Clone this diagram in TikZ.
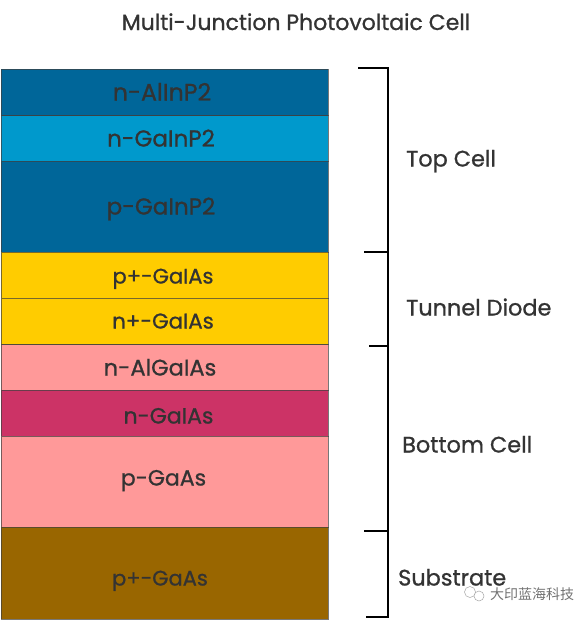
\documentclass[tikz,border=0pt]{standalone}
\usepackage{fontspec}
\setmainfont[FakeBold=0.9]{Poppins}
\newfontfamily\cjkwm{Noto Sans CJK SC}
\definecolor{deepblue}{HTML}{006699}
\definecolor{lightblue}{HTML}{0099CC}
\definecolor{amber}{HTML}{FFCC00}
\definecolor{salmon}{HTML}{FF9999}
\definecolor{berry}{HTML}{CC3366}
\definecolor{umber}{HTML}{996600}
\definecolor{ink}{HTML}{333333}
\newcommand{\layersize}[1]{\fontsize{#1}{26}\selectfont}
\tikzset{
  layerbox/.style={draw=black!75,draw opacity=.7,line width=.6pt,minimum width=327pt,inner sep=0pt,outer sep=0pt,anchor=north west},
  layertext/.style={text=ink,font=\layersize{#1},inner sep=0pt,anchor=base},
  sidetext/.style={text=ink,font=\layersize{22.4},inner sep=0pt,anchor=base west},
  brace/.style={draw=black,line width=2pt},
}
\begin{document}
\begin{tikzpicture}[x=1pt,y=-1pt]
\useasboundingbox (0,0) rectangle (575,622);
\fill[white] (0,0) rectangle (575,622);
\node[text=ink,font=\layersize{22},inner sep=0pt,anchor=base] (title) at (296,30) {Multi-Junction Photovoltaic Cell};
\node[layerbox,fill=deepblue,minimum height=46.5pt] (l1) at (1,69) {};
\node[layerbox,fill=lightblue,minimum height=45.5pt] (l2) at (1,115.5) {};
\node[layerbox,fill=deepblue,minimum height=91pt] (l3) at (1,161) {};
\node[layerbox,fill=amber,minimum height=46pt] (l4) at (1,252) {};
\node[layerbox,fill=amber,minimum height=46.5pt] (l5) at (1,298) {};
\node[layerbox,fill=salmon,minimum height=45.5pt] (l6) at (1,344.5) {};
\node[layerbox,fill=berry,minimum height=46pt] (l7) at (1,390) {};
\node[layerbox,fill=salmon,minimum height=91pt] (l8) at (1,436) {};
\node[layerbox,fill=umber,minimum height=92pt] (l9) at (1,527) {};
\node[layertext=23.7] (t1) at (162,100.5) {n-AlInP2};
\node[layertext=23] (t2) at (161,146.5) {n-GaInP2};
\node[layertext=23] (t3) at (161,214.5) {p-GaInP2};
\node[layertext=21] (t4) at (163,283.5) {p+-GaIAs};
\node[layertext=21.3] (t5) at (163,328.5) {n+-GaIAs};
\node[layertext=22.5] (t6) at (160,375.5) {n-AlGaIAs};
\node[layertext=22] (t7) at (168.5,423.5) {n-GaIAs};
\node[layertext=22] (t8) at (163.5,485.5) {p-GaAs};
\node[layertext=21] (t9) at (160,585.5) {p+-GaAs};
\coordinate (b0) at (388,68);
\coordinate (b1) at (388,252);
\coordinate (b2) at (388,346);
\coordinate (b3) at (388,531);
\coordinate (b4) at (388,617);
\coordinate (c0) at (358,68);
\coordinate (c1) at (364,252);
\coordinate (c2) at (369,346);
\coordinate (c3) at (364,531);
\coordinate (c4) at (366,617);
\draw[brace,line cap=rect] (b0) -- (b4);
\draw[brace] (c0) -- (b0);
\draw[brace] (c1) -- (b1);
\draw[brace] (c2) -- (b2);
\draw[brace] (c3) -- (b3);
\draw[brace] (c4) -- (b4);
\node[sidetext] (s1) at (406,166.5) {Top Cell};
\node[sidetext] (s2) at (406,315.5) {Tunnel Diode};
\node[sidetext] (s3) at (402,452.5) {Bottom Cell};
\node[sidetext] (s4) at (398,585.5) {Substrate};
\node[text=black!55,font=\cjkwm\fontsize{14}{16}\selectfont,inner sep=0pt,anchor=west] (wm) at (490,594) {大印蓝海科技};
\draw[black!35,line width=.5pt] (470,592) circle (5.5) (479,596) circle (5);
\end{tikzpicture}
\end{document}
